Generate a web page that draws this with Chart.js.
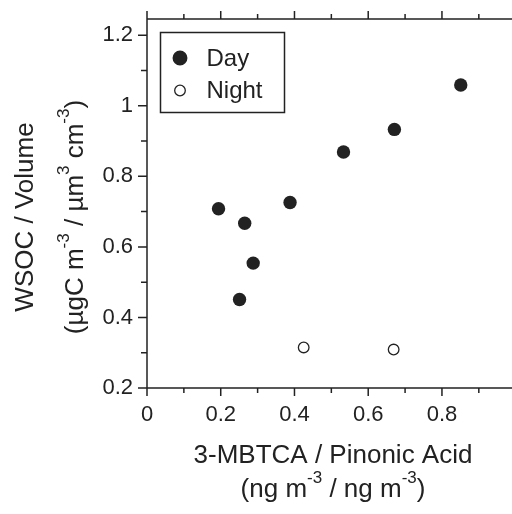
<!DOCTYPE html>
<html>
<head>
<meta charset="utf-8">
<script src="https://cdn.jsdelivr.net/npm/chart.js@4"></script>
<style>
  body { margin: 0; background: #fff; }
  #wrap { width: 512px; height: 514px; position: relative; }
</style>
</head>
<body>
<div id="wrap"><canvas id="chart"></canvas></div>
<script>
// ratio of 3-MBTCA to pinonic acid vs WSOC/volume
const dayX = [0.194, 0.265, 0.288, 0.251, 0.388, 0.533, 0.671, 0.851];
const dayY = [0.708, 0.667, 0.554, 0.451, 0.726, 0.869, 0.933, 1.059];
const nightX = [0.425, 0.669];
const nightY = [0.315, 0.309];
const seriesNames = ["Day", "Night"];
const xTickLabels = ["0", "0.2", "0.4", "0.6", "0.8"];
const yTickLabels = ["0.2", "0.4", "0.6", "0.8", "1", "1.2"];

const ink = "#222";
const font = "'Liberation Sans', Arial, sans-serif";

function pts(xs, ys) {
    return xs.map((x, i) => ({ x: x, y: ys[i] }));
}

function isMajor(v) {
    return Math.abs(v * 5 - Math.round(v * 5)) < 1e-6;
}

function labelFor(v, list) {
    const s = String(Math.round(v * 10) / 10);
    return list.includes(s) ? s : "";
}

// draws a line of text with superscripts, centred on x
function richText(ctx, parts, x, y, size) {
    const big = size + "px " + font;
    const small = Math.round(size * 0.65) + "px " + font;
    let w = 0;
    parts.forEach(p => {
        ctx.font = p.sup ? small : big;
        w += ctx.measureText(p.t).width;
    });
    let cx = x - w / 2;
    ctx.textAlign = "left";
    ctx.textBaseline = "alphabetic";
    parts.forEach(p => {
        ctx.font = p.sup ? small : big;
        ctx.fillText(p.t, cx, p.sup ? y - size * 0.52 : y);
        cx += ctx.measureText(p.t).width;
    });
}

const framePlugin = {
    id: "frame",
    afterDraw(chart) {
        const ctx = chart.ctx;
        const a = chart.chartArea;
        const xs = chart.scales.x;
        const ys = chart.scales.y;
        ctx.save();
        ctx.strokeStyle = ink;
        ctx.lineWidth = 1.5;
        ctx.beginPath();
        ctx.moveTo(a.left, a.top);
        ctx.lineTo(a.left, a.bottom);
        ctx.moveTo(a.left, a.bottom);
        ctx.lineTo(a.right, a.bottom);
        ctx.moveTo(a.left, a.top);
        ctx.lineTo(a.right, a.top);
        xs.ticks.forEach(t => {
            const px = xs.getPixelForValue(t.value);
            const len = isMajor(t.value) ? 8 : 5;
            ctx.moveTo(px, a.bottom);
            ctx.lineTo(px, a.bottom + len);
            ctx.moveTo(px, a.top);
            ctx.lineTo(px, a.top - len);
        });
        ys.ticks.forEach(t => {
            const py = ys.getPixelForValue(t.value);
            const len = isMajor(t.value) ? 9 : 6;
            ctx.moveTo(a.left, py);
            ctx.lineTo(a.left - len, py);
        });
        ctx.stroke();

        // axis titles
        ctx.fillStyle = ink;
        const midX = 333;
        richText(ctx, [{ t: "3-MBTCA / Pinonic Acid" }], midX, 463, 26);
        richText(ctx, [{ t: "(ng m" }, { t: "-3", sup: true }, { t: " / ng m" }, { t: "-3", sup: true }, { t: ")" }], midX, 497, 26);
        ctx.save();
        ctx.translate(0, 217);
        ctx.rotate(-Math.PI / 2);
        richText(ctx, [{ t: "WSOC / Volume" }], 0, 33, 26);
        richText(ctx, [{ t: "(µgC m" }, { t: "-3", sup: true }, { t: " / µm" }, { t: "3", sup: true }, { t: " cm" }, { t: "-3", sup: true }, { t: ")" }], 0, 83, 26);
        ctx.restore();

        // legend box
        const bx = a.left + 13.5, by = a.top + 13.5;
        ctx.lineWidth = 1.5;
        ctx.strokeRect(bx, by, 124, 80);
        ctx.font = "24px " + font;
        ctx.textAlign = "left";
        ctx.textBaseline = "middle";
        chart.data.datasets.forEach((ds, i) => {
            const cy = by + 25.5 + i * 32.5;
            ctx.beginPath();
            ctx.arc(bx + 19.5, cy, ds.pointRadius, 0, Math.PI * 2);
            ctx.fillStyle = ds.pointBackgroundColor;
            ctx.fill();
            ctx.lineWidth = ds.pointBorderWidth;
            ctx.strokeStyle = ds.pointBorderColor;
            ctx.stroke();
            ctx.fillStyle = ink;
            ctx.fillText(ds.label, bx + 46, cy + 1);
        });
        ctx.restore();
    }
};

new Chart(document.getElementById("chart"), {
    type: "scatter",
    data: {
        datasets: [
            {
                label: seriesNames[0],
                data: pts(dayX, dayY),
                pointRadius: 6.7,
                pointHoverRadius: 6.7,
                pointBackgroundColor: ink,
                pointBorderColor: ink,
                pointBorderWidth: 0
            },
            {
                label: seriesNames[1],
                data: pts(nightX, nightY),
                pointRadius: 5.3,
                pointHoverRadius: 5.3,
                pointBackgroundColor: "#fff",
                pointBorderColor: ink,
                pointBorderWidth: 1.3
            }
        ]
    },
    options: {
        responsive: true,
        maintainAspectRatio: false,
        animation: false,
        layout: { autoPadding: false, padding: { top: 19, right: 0, bottom: 0, left: 0 } },
        plugins: {
            legend: { display: false },
            tooltip: { enabled: false }
        },
        scales: {
            x: {
                type: "linear",
                min: 0,
                max: 0.99,
                grid: { display: false, drawTicks: false },
                border: { display: false },
                ticks: {
                    stepSize: 0.1,
                    includeBounds: false,
                    autoSkip: false,
                    maxRotation: 0,
                    padding: 14,
                    color: ink,
                    font: { family: font, size: 22 },
                    callback: v => labelFor(v, xTickLabels)
                },
                afterFit: s => { s.height = 126; s.paddingLeft = 0; s.paddingRight = 0; }
            },
            y: {
                type: "linear",
                min: 0.2,
                max: 1.246,
                grid: { display: false, drawTicks: false },
                border: { display: false },
                ticks: {
                    stepSize: 0.1,
                    includeBounds: false,
                    autoSkip: false,
                    padding: 14,
                    color: ink,
                    font: { family: font, size: 22 },
                    callback: v => labelFor(v, yTickLabels)
                },
                afterFit: s => { s.width = 147; s.paddingTop = 0; s.paddingBottom = 0; }
            }
        }
    },
    plugins: [framePlugin]
});
</script>
</body>
</html>
